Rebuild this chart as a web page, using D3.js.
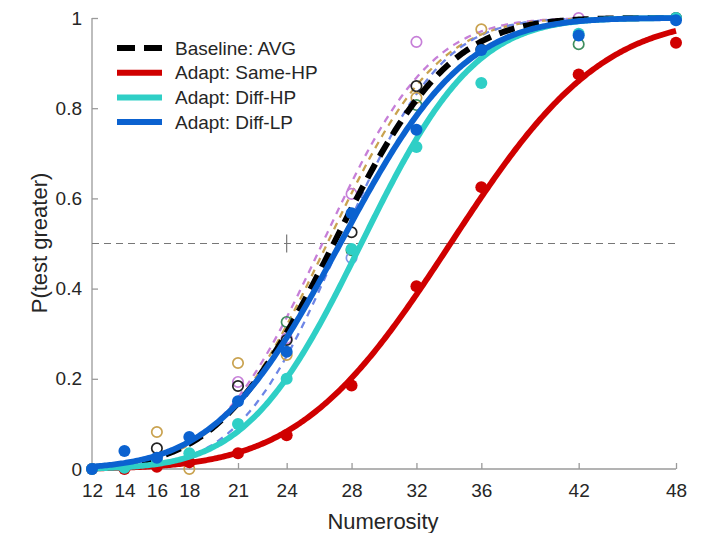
<!DOCTYPE html>
<html><head><meta charset="utf-8">
<script src="https://cdn.jsdelivr.net/npm/d3@7"></script>
<style>
body{margin:0;background:#fff;}
svg{display:block;font-family:"Liberation Sans",Arial,sans-serif;}
</style></head><body>
<svg id="c" width="702" height="533"></svg>
<script>
// ---- data ----
const xTicks = [12,14,16,18,21,24,28,32,36,42,48];
const yTicks = [0,0.2,0.4,0.6,0.8,1];
const numerosity = [12,14,16,18,21,24,28,32,36,42,48];

// main conditions: fitted psychometric (cumulative Gaussian) parameters [PSE, sigma]
const mainNames  = ["Baseline: AVG","Adapt: Same-HP","Adapt: Diff-HP","Adapt: Diff-LP"];
const mainColors = ["#000000","#d00000","#2fcfc6","#0b62d0"];
const mainPSE    = [26.9, 34.1, 28.6, 27.3];
const mainSigma  = [5.6, 7.3, 5.5, 6.0];

// filled data points (proportion "test greater")
const sameHP = [0.0,0.0,0.005,0.015,0.035,0.075,0.185,0.405,0.625,0.875,0.945];
const diffHP = [0.0,0.003,0.02,0.035,0.10,0.20,0.488,0.714,0.856,0.965,1.0];
const diffLP = [0.0,0.04,0.025,0.071,0.15,0.26,0.567,0.752,0.929,0.961,0.995];

// individual baseline fits (thin dashed) [PSE, sigma]
const baseNames  = ["purple","gold","blue"];
const baseColors = ["#c67fd8","#c9a24f","#6e86e6"];
const basePSE    = [26.2, 26.5, 27.3];
const baseSigma  = [5.2, 5.3, 4.9];

// baseline open-circle data: [x, y, colorIndex]  (colors: 0 black,1 purple,2 gold,3 green,4 blue)
const openColors = ["#222222","#c67fd8","#c9a24f","#3f8f5f","#7e95e6"];
const openX = [16,16,18,21,21,21,24,24,24,24,28,28,28,28,32,32,32,32,36,36,42,42,48];
const openY = [0.082,0.046,0.0,0.235,0.193,0.184,0.326,0.29,0.286,0.253,0.61,0.525,0.485,0.468,0.947,0.849,0.823,0.807,0.975,0.93,1.0,0.942,1.0];
const openC = [2,0,2,2,1,0,3,1,0,2,1,0,3,4,1,0,2,3,2,0,1,3,0];

// ---- layout ----
const svg = d3.select("#c");
const L=92,R=676,T=18,B=469;
const x = d3.scaleLinear().domain([12,48]).range([L,R]);
const y = d3.scaleLinear().domain([0,1]).range([B,T]);
const axisCol = "#9a9a9a", textCol="#262626";

function cdf(z){ // normal cdf (Abramowitz-Stegun)
  const t=1/(1+0.2316419*Math.abs(z));
  const d=0.3989423*Math.exp(-z*z/2);
  let p=d*t*(0.3193815+t*(-0.3565638+t*(1.781478+t*(-1.821256+t*1.330274))));
  return z>0?1-p:p;
}
const xs = d3.range(12,48.001,0.1);
const curve = (mu,s)=> xs.map(v=>[v,cdf((v-mu)/s)]);
const line = d3.line().x(d=>x(d[0])).y(d=>y(d[1]));

// axes
const xAxis = d3.axisBottom(x).tickValues(xTicks).tickSize(-6).tickPadding(15).tickFormat(d3.format("d"));
const gx = svg.append("g").attr("transform",`translate(0,${B})`).call(xAxis);
const yAxis = d3.axisLeft(y).tickValues(yTicks).tickSize(-6).tickPadding(10).tickFormat(d=>d===0||d===1?String(d):d.toFixed(1));
const gy = svg.append("g").attr("transform",`translate(${L},0)`).call(yAxis);
[gx,gy].forEach(g=>{
  g.select(".domain").attr("stroke",axisCol).attr("stroke-width",1.3).attr("d", g===gx?`M${L},0H${R}`:`M0,${T}V${B}`);
  g.selectAll(".tick line").attr("stroke",axisCol).attr("stroke-width",1.3);
  g.selectAll(".tick text").attr("fill",textCol).attr("font-size",19);
});

// 0.5 reference line + standard marker
svg.append("line").attr("x1",L).attr("x2",R).attr("y1",y(0.5)).attr("y2",y(0.5))
  .attr("stroke","#777").attr("stroke-width",1.2).attr("stroke-dasharray","7,5");
svg.append("line").attr("x1",x(24)).attr("x2",x(24)).attr("y1",y(0.5)-9).attr("y2",y(0.5)+9)
  .attr("stroke","#777").attr("stroke-width",1.2);

// thin dashed individual baseline curves
basePSE.forEach((mu,i)=>{
  svg.append("path").attr("d",line(curve(mu,baseSigma[i]))).attr("fill","none")
    .attr("stroke",baseColors[i]).attr("stroke-width",2.3).attr("stroke-dasharray","7,6");
});
// open circles
openX.forEach((v,i)=>{
  svg.append("circle").attr("cx",x(v)).attr("cy",y(openY[i])).attr("r",5.2)
    .attr("fill","none").attr("stroke",openColors[openC[i]]).attr("stroke-width",1.7);
});

// main curves
const dotsSets = [null, sameHP, diffHP, diffLP];
[0,1,2,3].forEach(i=>{
  const p = svg.append("path").attr("d",line(curve(mainPSE[i],mainSigma[i]))).attr("fill","none")
    .attr("stroke",mainColors[i]).attr("stroke-width",i===0?6:5.8);
  if(i===0) p.attr("stroke-dasharray","16,9");
  if(dotsSets[i]){
    svg.selectAll(null).data(numerosity).enter().append("circle")
      .attr("cx",d=>x(d)).attr("cy",(d,j)=>y(dotsSets[i][j])).attr("r",6)
      .attr("fill",mainColors[i]);
  }
});

// legend
const lg = svg.append("g");
mainNames.forEach((n,i)=>{
  const yy = 48 + i*24.7;
  const l = lg.append("line").attr("x1",117).attr("x2",162).attr("y1",yy).attr("y2",yy)
    .attr("stroke",mainColors[i]).attr("stroke-width",6);
  if(i===0) l.attr("stroke-dasharray","18,9");
  lg.append("text").attr("x",175).attr("y",yy).attr("dy","0.35em").attr("font-size",19)
    .attr("fill",textCol).text(n);
});

// axis titles
svg.append("text").attr("x",383).attr("y",521).attr("dy","0.35em").attr("text-anchor","middle")
  .attr("font-size",22).attr("fill",textCol).text("Numerosity");
svg.append("text").attr("transform","translate(39,243) rotate(-90)").attr("dy","0.35em").attr("text-anchor","middle")
  .attr("font-size",22).attr("fill",textCol).text("P(test greater)");
</script></body></html>
